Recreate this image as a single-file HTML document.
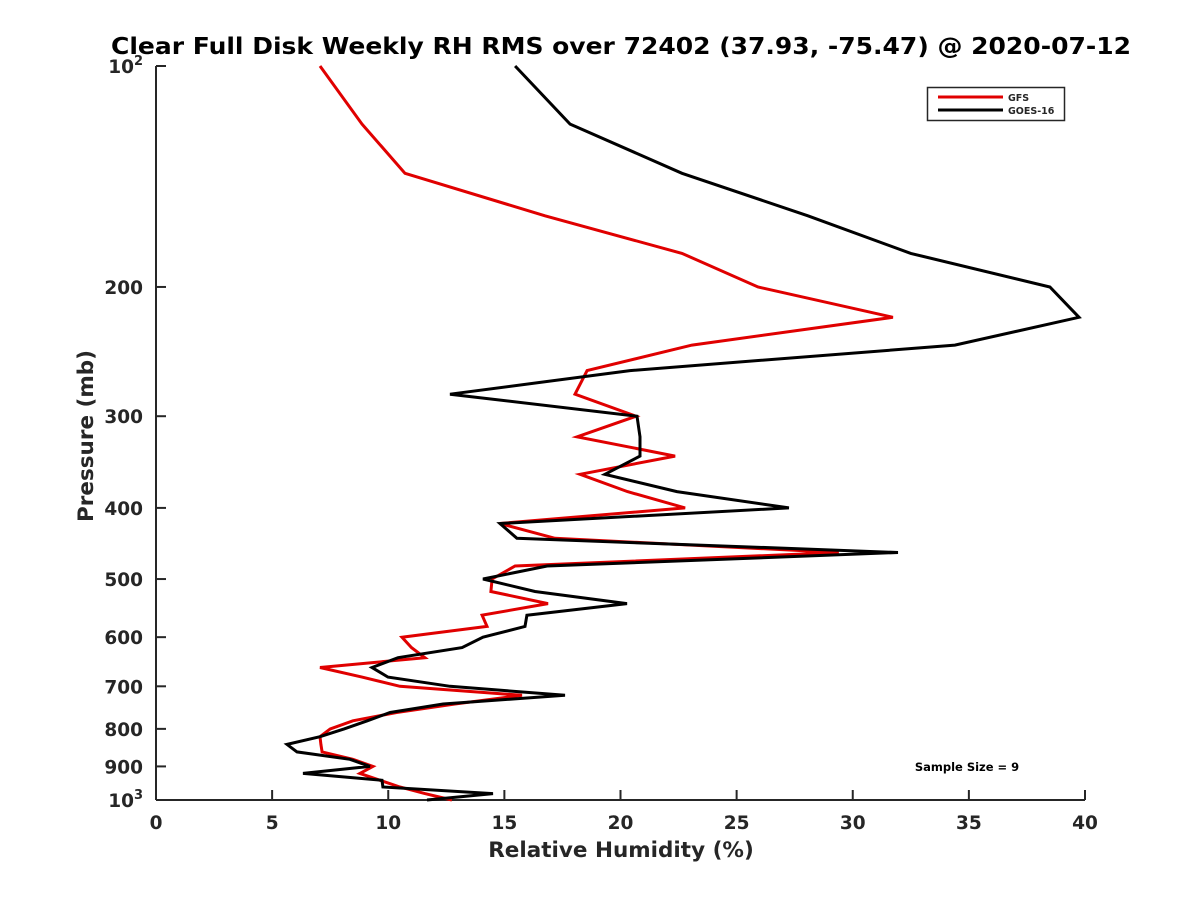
<!DOCTYPE html>
<html><head><meta charset="utf-8"><style>
body{margin:0;background:#fff;}
svg text{font-family:"DejaVu Sans","Liberation Sans",sans-serif;font-weight:bold;fill:#262626;}
</style></head><body>
<svg id="chart" width="1200" height="900">
<text x="621" y="54" font-size="23" text-anchor="middle" textLength="1020" lengthAdjust="spacingAndGlyphs" style="fill:#000">Clear Full Disk Weekly RH RMS over 72402 (37.93, -75.47) @ 2020-07-12</text>
<g id="axes"></g>
<g id="series"></g>
<text x="621" y="857" font-size="21.5" text-anchor="middle">Relative Humidity (%)</text>
<text transform="translate(93,436) rotate(-90)" font-size="21.5" text-anchor="middle">Pressure (mb)</text>
<g>
<rect x="927.5" y="87.5" width="137" height="33" fill="#fff" stroke="#262626" stroke-width="1.5"/>
<line x1="938" y1="97" x2="1003" y2="97" stroke="#e00000" stroke-width="3"/>
<text x="1008" y="101" font-size="9.5">GFS</text>
<line x1="938" y1="110" x2="1003" y2="110" stroke="#000" stroke-width="3"/>
<text x="1008" y="114" font-size="9.5">GOES-16</text>
</g>
<text x="967" y="771" font-size="11.5" text-anchor="middle" style="fill:#000">Sample Size = 9</text>
</svg>
<script>
const levels=[100,120,140,160,180,200,220,240,260,280,300,320,340,360,380,400,420,440,460,480,500,520,540,560,580,600,620,640,660,680,700,720,740,760,780,800,820,840,860,880,900,920,940,960,980,1000];
const gfs=[7.06,8.87,10.72,16.75,22.65,25.92,31.73,23.08,18.56,18.04,20.67,18.13,22.35,18.26,20.3,22.78,14.8,17.18,29.4,15.46,14.47,14.42,16.88,14.04,14.25,10.59,11.0,11.58,7.06,8.87,10.5,15.76,12.87,10.36,8.48,7.5,7.06,7.1,7.15,8.48,9.34,8.78,9.65,10.5,11.58,12.74];
const goes=[15.46,17.83,22.65,28.07,32.5,38.49,39.74,34.4,20.41,12.66,20.71,20.84,20.84,19.33,22.43,27.25,14.81,15.54,31.95,16.84,14.08,16.32,20.28,15.97,15.89,14.08,13.18,10.42,9.3,9.99,12.66,17.61,12.36,10.08,9.1,8.1,7.06,5.64,6.07,8.35,9.21,6.33,9.73,9.77,14.51,11.67];
const xTicks=[0,5,10,15,20,25,30,35,40];
const yTicks=[100,200,300,400,500,600,700,800,900,1000];
const yTickLabels=["10^2","200","300","400","500","600","700","800","900","10^3"];
const X0=156,X1=1085,Y0=66,Y1=800,XMAX=40;
function sx(v){return X0+(v/XMAX)*(X1-X0);}
function sy(p){return Y0+(Math.log10(p)-2)*(Y1-Y0);}
const NS="http://www.w3.org/2000/svg";
const ax=document.getElementById('axes'),se=document.getElementById('series');
function mk(tag,attrs,parent){const e=document.createElementNS(NS,tag);for(const k in attrs)e.setAttribute(k,attrs[k]);parent.appendChild(e);return e;}
let l=mk('line',{x1:X0,y1:Y0,x2:X0,y2:Y1,stroke:'#262626','stroke-width':2},ax);


l=mk('line',{x1:X0,y1:Y1,x2:X1,y2:Y1,stroke:'#262626','stroke-width':2},ax);


xTicks.forEach(v=>{const x=sx(v);
 const t=mk('line',{x1:x,y1:Y1,x2:x,y2:Y1-10,stroke:'#262626','stroke-width':2},ax);
 
 
 const tx=mk('text',{x:x,y:Y1+29,'font-size':18.5,'text-anchor':'middle'},ax);tx.textContent=v;
 
 
});
yTicks.forEach((p,i)=>{const y=sy(p);
 const t=mk('line',{x1:X0,y1:y,x2:X0+10,y2:y,stroke:'#262626','stroke-width':2},ax);
 
 
 const lab=yTickLabels[i];
 const tx=mk('text',{x:X0-13,y:y+7,'font-size':18.5,'text-anchor':'end'},ax);
 if(lab.indexOf('^')>=0){const parts=lab.split('^');
  const a=mk('tspan',{},tx);a.textContent=parts[0];
  const b=mk('tspan',{dy:-8,'font-size':13},tx);b.textContent=parts[1];
 } else tx.textContent=lab;
 
 
});
function drawLine(vals,color,name){
 const pts=vals.map((v,i)=>sx(v).toFixed(1)+','+sy(levels[i]).toFixed(1)).join(' ');
 const pl=mk('polyline',{points:pts,fill:'none',stroke:color,'stroke-width':3,'stroke-linejoin':'miter'},se);
 
 
}
drawLine(gfs,'#e00000','gfs-line');
drawLine(goes,'#000','goes16-line');
</script>
</body></html>
